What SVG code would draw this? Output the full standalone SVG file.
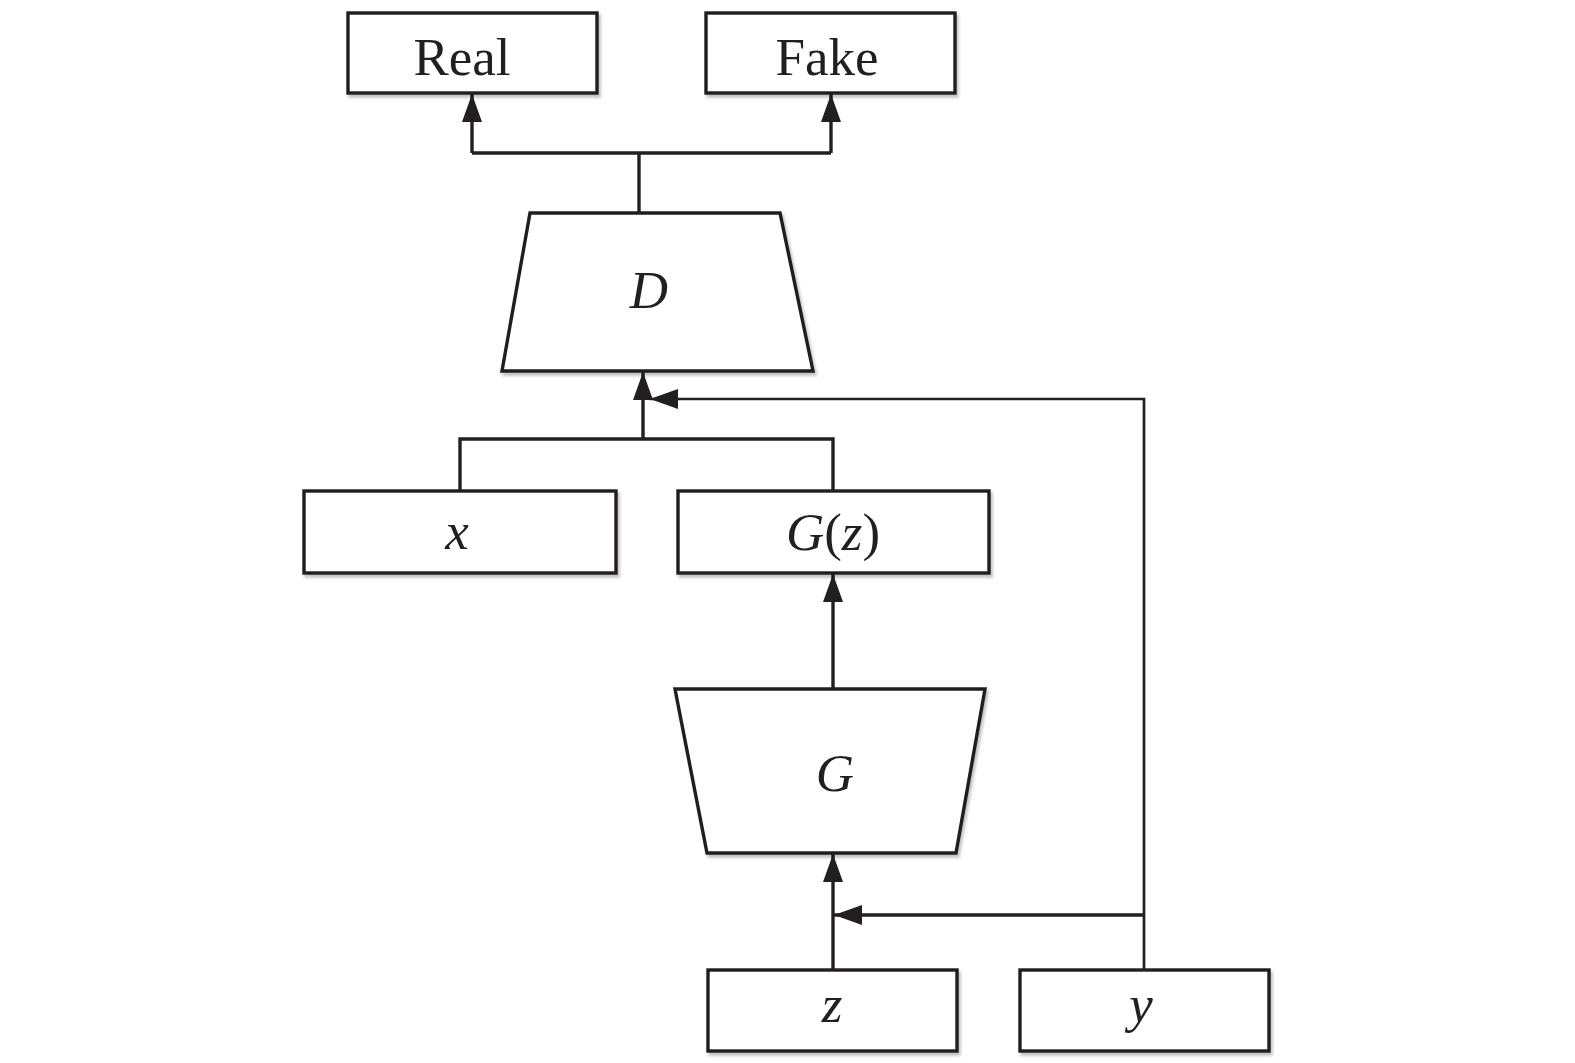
<svg xmlns="http://www.w3.org/2000/svg" width="1575" height="1063" viewBox="0 0 1575 1063">
<style>
.box{fill:#fff;stroke:#231f20;stroke-width:3.4;filter:url(#sh)}
.lbl{font-family:"Liberation Serif","Times New Roman",serif;font-size:53px;fill:#231f20;text-anchor:middle}
.it{font-style:italic}
.con{fill:none;stroke:#231f20;stroke-width:3.4}
.thin{fill:none;stroke:#231f20;stroke-width:2.7}
</style>
<defs>
<filter id="sh" x="-10%" y="-10%" width="120%" height="130%">
<feDropShadow dx="2" dy="3" stdDeviation="1.5" flood-color="#000" flood-opacity="0.25"/>
</filter>
<marker id="ah" markerUnits="userSpaceOnUse" markerWidth="30" markerHeight="22" refX="28" refY="10" orient="auto">
<path d="M0,0 L28,10 L0,20 z" fill="#231f20"/>
</marker>
</defs>
<rect width="1575" height="1063" fill="#fff"/>
<g id="connectors">
<path class="con" d="M639,213 V153"/>
<path class="con" d="M472,153 H831"/>
<path class="con" d="M472,153 V94" marker-end="url(#ah)"/>
<path class="con" d="M831,153 V94" marker-end="url(#ah)"/>
<path class="con" d="M460,491 V439 H833 V491"/>
<path class="con" d="M643,439 V372" marker-end="url(#ah)"/>
<path class="thin" d="M1144,970 V399 H650" marker-end="url(#ah)"/>
<path class="con" d="M833,689 V574" marker-end="url(#ah)"/>
<path class="con" d="M833,970 V854" marker-end="url(#ah)"/>
<path class="con" d="M1144,915 H834" marker-end="url(#ah)"/>
</g>
<g id="real"><rect class="box" x="348" y="13" width="249" height="80"/><text class="lbl" x="462" y="75">Real</text></g>
<g id="fake"><rect class="box" x="706" y="13" width="249" height="80"/><text class="lbl" x="827" y="75">Fake</text></g>
<g id="D"><polygon class="box" points="530,213 780,213 813,371 502,371"/><text class="lbl it" x="649" y="308">D</text></g>
<g id="x"><rect class="box" x="304" y="491" width="312" height="82"/><text class="lbl it" x="457" y="549">x</text></g>
<g id="Gz"><rect class="box" x="678" y="491" width="311" height="82"/><text class="lbl" x="833" y="550"><tspan class="it">G</tspan>(<tspan class="it">z</tspan>)</text></g>
<g id="G"><polygon class="box" points="675,689 985,689 956,853 707,853"/><text class="lbl it" x="835" y="791">G</text></g>
<g id="z"><rect class="box" x="708" y="970" width="249" height="81"/><text class="lbl it" x="832" y="1022">z</text></g>
<g id="y"><rect class="box" x="1020" y="970" width="249" height="81"/><text class="lbl it" x="1141" y="1022">y</text></g>
</svg>
